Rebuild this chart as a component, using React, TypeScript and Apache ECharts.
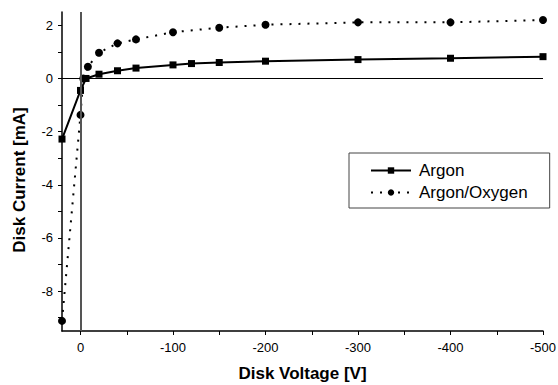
import React, { useEffect, useRef } from "react";
import * as echarts from "echarts";

const argonX = [20, 0, -6, -20, -40, -60, -100, -120, -150, -200, -300, -400, -500];
const argonY = [-2.28, -0.45, 0.0, 0.16, 0.29, 0.39, 0.51, 0.56, 0.6, 0.65, 0.71, 0.76, 0.82];
const oxyX = [20, 0, -3, -8, -20, -40, -60, -100, -150, -200, -300, -400, -500];
const oxyY = [-9.12, -1.37, 0.0, 0.44, 0.97, 1.32, 1.47, 1.74, 1.91, 2.02, 2.11, 2.11, 2.2];

const xLabels = [0, -100, -200, -300, -400, -500];
const xTicks = [0, -50, -100, -150, -200, -250, -300, -350, -400, -450, -500];
const yLabels = [-8, -6, -4, -2, 0, 2];
const yTicks = [-9, -8, -7, -6, -5, -4, -3, -2, -1, 0, 1, 2];

const FONT = "'Liberation Sans', Arial, sans-serif";

export default function App() {
  const ref = useRef<HTMLDivElement>(null);
  useEffect(() => {
    const chart = echarts.init(ref.current!, null, { renderer: "svg" });
    chart.setOption({
      animation: false,
      backgroundColor: "#fff",
      textStyle: { fontFamily: FONT },
      grid: { left: 62, right: 15, top: 12, bottom: 54, containLabel: false, outerBoundsMode: "none" },
      xAxis: {
        type: "value",
        min: -500,
        max: 20,
        inverse: true,
        name: "Disk Voltage [V]",
        nameLocation: "middle",
        nameGap: 34,
        nameTextStyle: { fontSize: 17, fontWeight: "bold", color: "#000", fontFamily: FONT },
        splitLine: { show: false },
        axisLine: { show: true, onZero: false, lineStyle: { color: "#000", width: 1.5 } },
        axisTick: { show: true, inside: false, length: 4, customValues: xTicks, lineStyle: { color: "#000", width: 1 } },
        axisLabel: { customValues: xLabels, fontSize: 13, color: "#000", margin: 10, fontFamily: FONT },
      },
      yAxis: {
        type: "value",
        min: -9.5,
        max: 2.5,
        splitLine: { show: false },
        axisLine: { show: true, onZero: false, lineStyle: { color: "#000", width: 1.5 } },
        axisTick: { show: true, inside: false, length: 4, customValues: yTicks, lineStyle: { color: "#000", width: 1 } },
        axisLabel: { customValues: yLabels, fontSize: 13, color: "#000", margin: 9, fontFamily: FONT },
      },
      legend: {
        orient: "vertical",
        left: 349,
        top: 153,
        borderColor: "#444",
        borderWidth: 1,
        padding: [9, 22, 7, 21],
        itemWidth: 40,
        itemHeight: 8,
        itemGap: 5,
        textStyle: { fontSize: 17, color: "#000", fontFamily: FONT, padding: [0, 0, 0, 3] },
        data: ["Argon", "Argon/Oxygen"],
      },
      graphic: [
        {
          type: "text",
          x: 19,
          y: 180,
          rotation: Math.PI / 2,
          style: {
            text: "Disk Current [mA]",
            fontSize: 17,
            fontWeight: "bold",
            fontFamily: FONT,
            fill: "#000",
            align: "center",
            verticalAlign: "middle",
          },
        },
      ],
      series: [
        {
          type: "line",
          name: "zero",
          z: 1,
          data: [],
          silent: true,
          markLine: {
            silent: true,
            symbol: ["none", "none"],
            label: { show: false },
            data: [
              { yAxis: 0, lineStyle: { color: "#000", width: 1, type: "solid" } },
              { xAxis: 0, lineStyle: { color: "#555", width: 2, type: "solid" } },
            ],
          },
        },
        {
          type: "line",
          name: "Argon",
          z: 3,
          data: argonX.map((x, i) => [x, argonY[i]]),
          symbol: "rect",
          symbolSize: 7,
          showAllSymbol: true,
          itemStyle: { color: "#000" },
          lineStyle: { color: "#000", width: 2, type: "solid" },
        },
        {
          type: "line",
          name: "Argon/Oxygen",
          z: 3,
          data: oxyX.map((x, i) => [x, oxyY[i]]),
          symbol: "circle",
          symbolSize: 8,
          showAllSymbol: true,
          itemStyle: { color: "#000" },
          lineStyle: { color: "#000", width: 2, type: [2, 7] },
        },
      ],
    });
    return () => chart.dispose();
  }, []);
  return (
    <div
      ref={ref}
      style={{ position: "absolute", left: 0, top: 0, width: 558, height: 385 }}
    />
  );
}
